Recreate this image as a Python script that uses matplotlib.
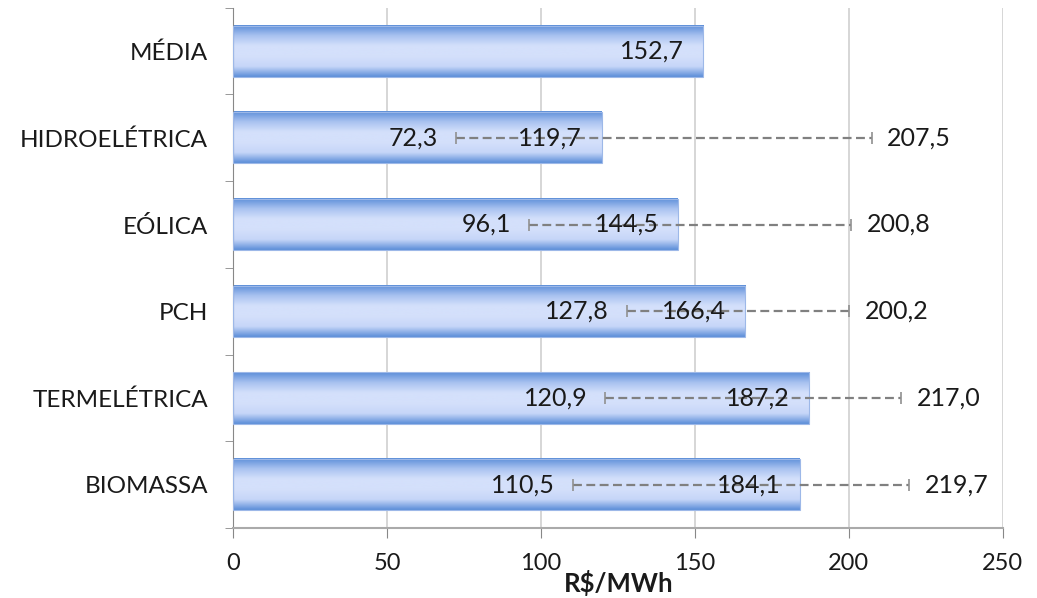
import numpy as np
import matplotlib.pyplot as plt
from matplotlib.colors import LinearSegmentedColormap

categorias = ['MÉDIA', 'HIDROELÉTRICA', 'EÓLICA', 'PCH', 'TERMELÉTRICA', 'BIOMASSA']
medio = [152.7, 119.7, 144.5, 166.4, 187.2, 184.1]
minimo = [None, 72.3, 96.1, 127.8, 120.9, 110.5]
maximo = [None, 207.5, 200.8, 200.2, 217.0, 219.7]

plt.rcParams['font.family'] = ['Lato', 'DejaVu Sans']

fig = plt.figure(figsize=(10.37, 5.98), dpi=100)
ax = fig.add_axes([0.2247, 0.117, 0.7423, 0.870])

y = np.arange(len(categorias))
h = 0.59
fs = 18
cmap = LinearSegmentedColormap.from_list('barra', ['#5d8fd9', '#a9c2f0', '#d4e0fb', '#d4e0fb', '#c6d6f8', '#5d8fd9'])
grad = np.linspace(0, 1, 100).reshape(-1, 1)

def fmt(v):
    return f'{v:.1f}'.replace('.', ',')

for i, v in enumerate(medio):
    ax.imshow(grad, cmap=cmap, aspect='auto', extent=(0, v, y[i] + h / 2, y[i] - h / 2),
              zorder=2, interpolation='bicubic')
    ax.add_patch(plt.Rectangle((0, y[i] - h / 2), v, h, fill=False, edgecolor='#9db8e8', lw=0.8, zorder=3))
    if minimo[i] is not None:
        ax.hlines(y[i], minimo[i], maximo[i], colors='#808080', linestyles=(0, (4, 2)), lw=1.6, zorder=4)
        ax.plot([minimo[i], maximo[i]], [y[i], y[i]], '|', color='#909090', ms=8, mew=1.2, zorder=4)
        ax.annotate(fmt(minimo[i]), (minimo[i], y[i]), xytext=(-13, 0),
                    textcoords='offset points', ha='right', va='center', fontsize=fs, color='#1a1a1a', zorder=5)
        ax.annotate(fmt(maximo[i]), (maximo[i], y[i]), xytext=(11, 0),
                    textcoords='offset points', ha='left', va='center', fontsize=fs, color='#1a1a1a', zorder=5)
    ax.annotate(fmt(v), (v, y[i]), xytext=(-14, 0), textcoords='offset points',
                ha='right', va='center', fontsize=fs, color='#1a1a1a', zorder=5)

ax.set_xlim(0, 250)
ax.set_ylim(len(categorias) - 0.5, -0.5)
ax.set_xticks(np.arange(0, 251, 50))
ax.set_yticks(y)
ax.set_yticklabels(categorias)
ax.set_yticks(np.arange(-0.5, len(categorias), 1), minor=True)
ax.tick_params(axis='y', which='major', length=0, pad=18, labelsize=17.5, colors='#1a1a1a')
ax.tick_params(axis='y', which='minor', length=6, color='#888888', direction='out')
ax.tick_params(axis='x', length=7, color='#888888', labelsize=17, pad=11, labelcolor='#1a1a1a')
ax.grid(axis='x', color='#d0d0d0', lw=1.2, zorder=0)
ax.set_axisbelow(True)
for s in ['top', 'right']:
    ax.spines[s].set_visible(False)
ax.spines['left'].set_color('#888888')
ax.spines['bottom'].set_color('#aaaaaa')
ax.spines['bottom'].set_linewidth(1.5)
ax.set_xlabel('R$/MWh', fontsize=18.5, fontweight='bold', color='#1a1a1a', va='center')
ax.xaxis.set_label_coords(0.501, -0.106)

fig.savefig('out.png', dpi=100)
